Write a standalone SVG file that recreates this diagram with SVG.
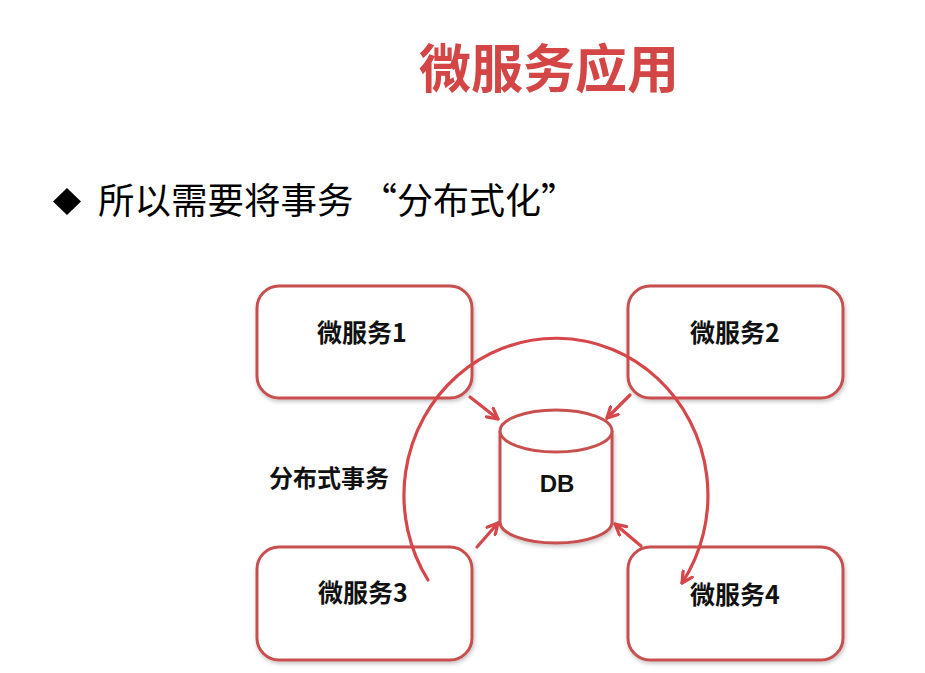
<svg xmlns="http://www.w3.org/2000/svg" width="925" height="673" viewBox="0 0 925 673">
<defs>
<filter id="sh" x="-10%" y="-10%" width="120%" height="130%">
<feDropShadow dx="1" dy="2" stdDeviation="2" flood-color="#000" flood-opacity="0.25"/>
</filter>
<marker id="ah" viewBox="0 0 14 14" refX="12" refY="7" markerWidth="14" markerHeight="14" markerUnits="userSpaceOnUse" orient="auto">
<path d="M1.5,1.5 L12,7 L1.5,12.5" fill="none" stroke="#d5474a" stroke-width="3.2" stroke-linecap="round" stroke-linejoin="round"/>
</marker>
</defs>
<style>
.box{fill:#fff;stroke:#c8504f;stroke-width:3;filter:url(#sh)}
.lbl{font-family:"Noto Sans CJK SC","Liberation Sans",sans-serif;font-weight:bold;font-size:25px;fill:#111;text-anchor:middle}
.con{fill:none;stroke:#d5474a;stroke-width:3.2;stroke-linecap:round;marker-end:url(#ah)}
</style>
<rect width="925" height="673" fill="#fff"/>
<text x="549" y="88" text-anchor="middle" font-family="Noto Sans CJK SC, sans-serif" font-weight="bold" font-size="52" fill="#d44545">微服务应用</text>
<polygon points="67,188 81,201.5 67,215 53,201.5" fill="#000"/>
<text x="98" y="214" font-family="Noto Sans CJK SC, sans-serif" font-size="36.5" fill="#000">所以需要将事务</text>
<text x="361" y="214" font-family="Noto Sans CJK SC, sans-serif" font-size="36" fill="#000">“分布式化”</text>
<g id="ms1"><rect class="box" x="257" y="286" width="215" height="112" rx="22"/><text class="lbl" x="362" y="342">微服务1</text></g>
<g id="ms2"><rect class="box" x="628" y="286" width="215" height="112" rx="22"/><text class="lbl" x="735" y="342">微服务2</text></g>
<g id="ms3"><rect class="box" x="257" y="547" width="215" height="113" rx="22"/><text class="lbl" x="363" y="602">微服务3</text></g>
<g id="ms4"><rect class="box" x="628" y="547" width="215" height="113" rx="22"/><text class="lbl" x="735" y="604">微服务4</text></g>
<g id="db">
<path d="M500,431 L500,522 A56,21 0 0 0 612,522 L612,431" fill="#fff" stroke="#c8504f" stroke-width="3" filter="url(#sh)"/>
<ellipse cx="556" cy="431" rx="56" ry="21" fill="#fff" stroke="#c8504f" stroke-width="3"/>
<text x="557" y="492" text-anchor="middle" font-family="Liberation Sans, sans-serif" font-weight="bold" font-size="24" fill="#111">DB</text>
</g>
<g id="label"><text x="269" y="487" font-family="Noto Sans CJK SC, sans-serif" font-weight="bold" font-size="24" fill="#111">分布式事务</text></g>
<g id="connectors">
<path class="con" d="M470,397 L498,419"/>
<path class="con" d="M630,395 L607,418"/>
<path class="con" d="M477,547 L498,523"/>
<path class="con" d="M641,546 L615,524"/>
<path class="con" d="M428,580 A152,157 0 1 1 682,583"/>
</g>
</svg>
